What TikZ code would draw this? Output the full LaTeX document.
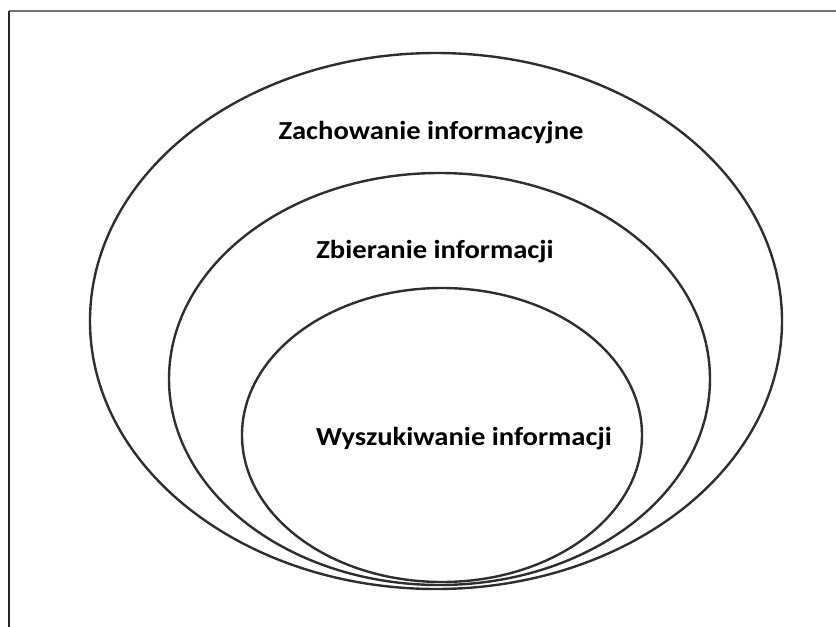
\documentclass[tikz,border=0pt]{standalone}
\usepackage{fontspec}
\setmainfont{Carlito}
\begin{document}
\begin{tikzpicture}[x=1pt,y=-1pt,
  ring/.style={draw=black!82, line width=2.4pt},
  label/.style={font=\bfseries\fontsize{26}{30}\selectfont, text=black, inner sep=0pt, xscale=1.1},
  frameline/.style={line width=1.6pt}]
  \useasboundingbox (0,0) rectangle (836,627);
  % page frame (top and left edges)
  \coordinate (fa) at (9,11);
  \coordinate (fb) at (836,11);
  \coordinate (fc) at (9,627);
  \draw[frameline, draw=black!55] (fa) -- (fb);
  \draw[frameline, draw=black!85] (fa) -- (fc);
  % nested ellipses
  \draw[ring] (436,321) ellipse [x radius=346, y radius=268];
  \draw[ring] (439.5,379) ellipse [x radius=270.5, y radius=206];
  \draw[ring] (442,435) ellipse [x radius=200, y radius=147];
  % labels
  \node[label] (outer) at (431,133) {Zachowanie informacyjne};
  \node[label] (middle) at (435,252) {Zbieranie informacji};
  \node[label] (inner) at (464,439) {Wyszukiwanie informacji};
\end{tikzpicture}
\end{document}
